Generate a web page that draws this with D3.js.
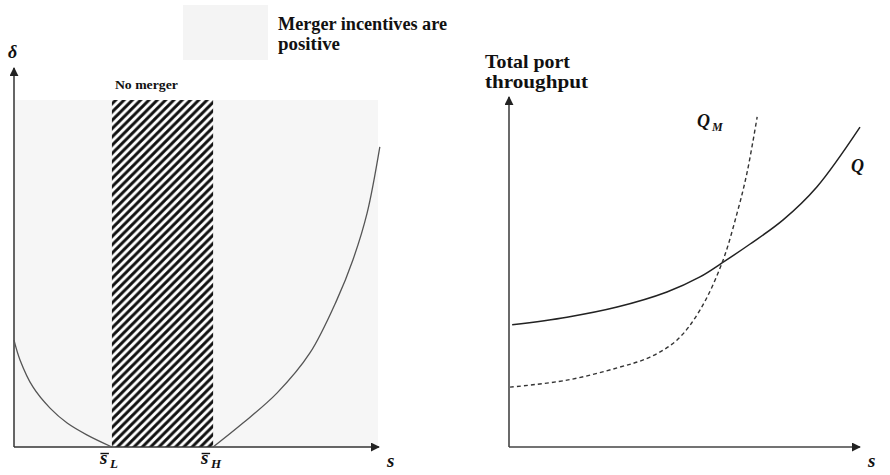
<!DOCTYPE html>
<html>
<head>
<meta charset="utf-8">
<script src="https://cdn.jsdelivr.net/npm/d3@7"></script>
<style>
  html, body { margin: 0; padding: 0; background: #fff; }
  svg { display: block; }
  text { font-family: "Liberation Serif", "DejaVu Serif", serif; font-weight: bold; fill: #111; }
</style>
</head>
<body>
<svg id="chart" width="890" height="475"></svg>
<script>
// ---------------- Data ----------------
// Left panel: merger incentive threshold curve δ(s), two branches
const leftBranchX = [0, 0.165, 0.52, 0.99, 1.46, 2.0, 2.69];
const leftBranchY = [3.08, 2.51, 1.73, 1.12, 0.69, 0.35, 0];
const rightBranchX = [5.47, 6.29, 7.23, 8.13, 8.87, 9.31, 9.70, 10.05];
const rightBranchY = [0, 0.69, 1.56, 2.71, 4.24, 5.39, 6.74, 8.65];
const sThresholds = [2.69, 5.47];          // s̄_L, s̄_H
const thresholdLabels = ["L", "H"];
const shadeTop = 10;                       // top of shaded region (δ units)

// Right panel: total port throughput
const qX  = [0.09, 1.65, 3.08, 4.5, 5.44, 6.07, 6.87, 7.81, 8.77, 10.0];
const qY  = [3.49, 3.71, 4.0, 4.43, 4.86, 5.26, 5.80, 6.49, 7.43, 9.14];
const qmX = [0.03, 1.65, 3.08, 4.02, 4.79, 5.44, 6.07, 6.5, 6.78, 7.07];
const qmY = [1.71, 1.91, 2.26, 2.57, 3.06, 3.91, 5.26, 6.69, 7.83, 9.43];

const legendText = ["Merger incentives are", "positive"];
const yTitleRight = ["Total port", "throughput"];

// ---------------- Setup ----------------
const svg = d3.select("#chart");
const defs = svg.append("defs");

defs.append("marker")
  .attr("id", "arrow")
  .attr("viewBox", "0 0 10 10")
  .attr("refX", 9).attr("refY", 5)
  .attr("markerWidth", 9).attr("markerHeight", 9)
  .attr("markerUnits", "userSpaceOnUse")
  .attr("orient", "auto")
  .append("path").attr("d", "M0,0 L10,5 L0,10 Z").attr("fill", "#222");

const pat = defs.append("pattern")
  .attr("id", "hatch")
  .attr("patternUnits", "userSpaceOnUse")
  .attr("width", 8.3).attr("height", 8.3);
pat.append("rect").attr("width", 8.3).attr("height", 8.3).attr("fill", "#fff");
pat.append("path")
  .attr("d", "M-2,2 L2,-2 M0,8.3 L8.3,0 M6.3,10.3 L10.3,6.3")
  .attr("stroke", "#111").attr("stroke-width", 3);

function label(x, y, size, txt, opts = {}) {
  const t = svg.append("text").attr("x", x).attr("y", y)
    .attr("font-size", size).text(txt);
  if (opts.italic) t.attr("font-style", "italic");
  if (opts.len) t.attr("textLength", opts.len).attr("lengthAdjust", "spacingAndGlyphs");
  return t;
}

// ---------------- Left panel ----------------
const xL = d3.scaleLinear().domain([0, 10]).range([14, 378]);
const yL = d3.scaleLinear().domain([0, 10]).range([447, 100]);

svg.append("rect")
  .attr("x", xL(0)).attr("y", yL(shadeTop))
  .attr("width", xL(10) - xL(0)).attr("height", yL(0) - yL(shadeTop))
  .attr("fill", "#f6f6f6");

svg.append("rect")
  .attr("x", xL(sThresholds[0])).attr("y", yL(shadeTop))
  .attr("width", xL(sThresholds[1]) - xL(sThresholds[0]))
  .attr("height", yL(0) - yL(shadeTop))
  .attr("fill", "url(#hatch)");

label(xL(sThresholds[0]) + 3, 89, 12, "No merger", { len: 63 });

svg.append("line")
  .attr("x1", xL(0)).attr("y1", yL(0))
  .attr("x2", xL(0)).attr("y2", 68)
  .attr("stroke", "#333").attr("stroke-width", 1.5)
  .attr("marker-end", "url(#arrow)");
svg.append("line")
  .attr("x1", xL(0)).attr("y1", yL(0))
  .attr("x2", xL(10) + 1).attr("y2", yL(0))
  .attr("stroke", "#333").attr("stroke-width", 1.5)
  .attr("marker-end", "url(#arrow)");

const lineL = d3.line().x(d => xL(d[0])).y(d => yL(d[1])).curve(d3.curveCatmullRom.alpha(0.5));
svg.append("path")
  .datum(d3.zip(leftBranchX, leftBranchY))
  .attr("d", lineL).attr("fill", "none")
  .attr("stroke", "#555").attr("stroke-width", 1.3);
svg.append("path")
  .datum(d3.zip(rightBranchX, rightBranchY))
  .attr("d", lineL).attr("fill", "none")
  .attr("stroke", "#555").attr("stroke-width", 1.3);

label(8, 58, 18, "δ", { italic: true });
label(387, 467, 19, "s", { italic: true });

sThresholds.forEach((v, i) => {
  const g = svg.append("g").attr("transform", `translate(${xL(v) - 12},0)`);
  g.append("text").attr("x", 0).attr("y", 464)
    .attr("font-size", 19).attr("font-style", "italic").text("s");
  g.append("line").attr("x1", 0.5).attr("x2", 9).attr("y1", 453.5).attr("y2", 453.5)
    .attr("stroke", "#111").attr("stroke-width", 1.4);
  g.append("text").attr("x", 10).attr("y", 468)
    .attr("font-size", 13).attr("font-style", "italic").text(thresholdLabels[i]);
});

// legend
svg.append("rect")
  .attr("x", 183).attr("y", 5).attr("width", 85).attr("height", 55)
  .attr("fill", "#f4f4f4");
label(278, 30, 18, legendText[0], { len: 169 });
label(278, 50, 18, legendText[1], { len: 62 });

// ---------------- Right panel ----------------
const xR = d3.scaleLinear().domain([0, 10]).range([509, 860]);
const yR = d3.scaleLinear().domain([0, 10]).range([447, 97]);

svg.append("line")
  .attr("x1", xR(0)).attr("y1", yR(0))
  .attr("x2", xR(0)).attr("y2", yR(10))
  .attr("stroke", "#444").attr("stroke-width", 1.6)
  .attr("marker-end", "url(#arrow)");
svg.append("line")
  .attr("x1", xR(0)).attr("y1", yR(0))
  .attr("x2", xR(10)).attr("y2", yR(0))
  .attr("stroke", "#444").attr("stroke-width", 1.6)
  .attr("marker-end", "url(#arrow)");

const lineR = d3.line().x(d => xR(d[0])).y(d => yR(d[1])).curve(d3.curveCatmullRom.alpha(0.5));
svg.append("path")
  .datum(d3.zip(qX, qY))
  .attr("d", lineR).attr("fill", "none")
  .attr("stroke", "#222").attr("stroke-width", 1.5);
svg.append("path")
  .datum(d3.zip(qmX, qmY))
  .attr("d", lineR).attr("fill", "none")
  .attr("stroke", "#333").attr("stroke-width", 1.4)
  .attr("stroke-dasharray", "4,3");

label(485, 68, 19, yTitleRight[0], { len: 85 });
label(485, 88, 19, yTitleRight[1], { len: 103 });

label(697, 127, 18, "Q", { italic: true });
label(712, 131, 12, "M", { italic: true });
label(851, 172, 18, "Q", { italic: true });
label(868, 467, 19, "s", { italic: true });
</script>
</body>
</html>
